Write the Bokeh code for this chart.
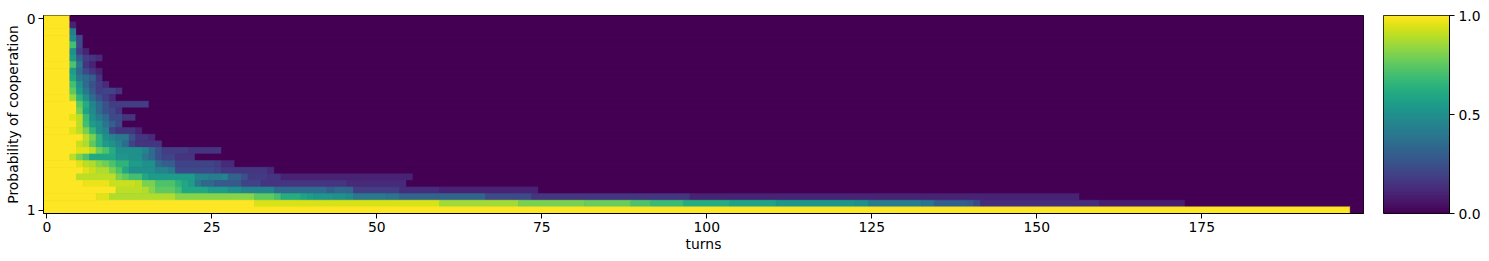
import numpy as np
from bokeh.plotting import figure
from bokeh.models import LinearColorMapper, FixedTicker, Range1d, ColumnDataSource
from bokeh.palettes import Viridis256
from bokeh.transform import transform
from bokeh.layouts import row
from bokeh.embed import file_html
from bokeh.resources import INLINE

# ---------------- data ----------------
n_turns = 200
turn_ticks = [0, 25, 50, 75, 100, 125, 150, 175]
prob_tick_rows = [0, 29]
prob_tick_labels = ["0", "1"]
colorbar_ticks = [0.0, 0.5, 1.0]
colorbar_labels = ["0.0", "0.5", "1.0"]

# each row (opponent, probability of cooperation 0 -> 1): runs of (cooperation rate, number of turns);
# turns after the listed runs have rate 0
cooperation_runs = [
    [(1, 4)],
    [(1, 4), (0.1, 1)],
    [(1, 4), (0.42, 1)],
    [(1, 4), (0.48, 1), (0.22, 1)],
    [(1, 4), (0.7, 1), (0.22, 1)],
    [(1, 4), (0.5, 1), (0.18, 1), (0.1, 1)],
    [(1, 4), (0.55, 1), (0.3, 1), (0.18, 1), (0.15, 1), (0.12, 1)],
    [(1, 4), (0.72, 1), (0.4, 1), (0.15, 1), (0.1, 1)],
    [(1, 4), (0.55, 1), (0.35, 1), (0.22, 1), (0.15, 1), (0.1, 1)],
    [(1, 4), (0.6, 1), (0.4, 1), (0.35, 1), (0.3, 1), (0.15, 1)],
    [(1, 4), (0.7, 1), (0.5, 1), (0.35, 1), (0.25, 1), (0.18, 1), (0.12, 1)],
    [(1, 4), (0.75, 1), (0.55, 1), (0.4, 1), (0.28, 1), (0.18, 1), (0.2, 2), (0.15, 1)],
    [(1, 4), (0.85, 1), (0.65, 1), (0.5, 1), (0.35, 1), (0.25, 1), (0.18, 1), (0.12, 1)],
    [(1, 5), (0.75, 1), (0.62, 1), (0.45, 1), (0.35, 1), (0.25, 1), (0.18, 6)],
    [(1, 5), (0.8, 1), (0.58, 1), (0.48, 1), (0.35, 1), (0.25, 1), (0.22, 1), (0.15, 1)],
    [(1, 4), (0.95, 1), (0.9, 1), (0.68, 1), (0.5, 1), (0.42, 1), (0.35, 1), (0.22, 2), (0.15, 2)],
    [(1, 5), (0.9, 1), (0.7, 1), (0.55, 1), (0.5, 1), (0.38, 1), (0.3, 1), (0.22, 1)],
    [(1, 4), (0.95, 1), (0.9, 1), (0.8, 1), (0.65, 1), (0.5, 1), (0.45, 1), (0.2, 1), (0.15, 3), (0.1, 1)],
    [(1, 6), (0.9, 1), (0.8, 1), (0.65, 1), (0.5, 1), (0.45, 1), (0.4, 2), (0.25, 1), (0.15, 2), (0.12, 1)],
    [(1, 5), (0.92, 1), (0.88, 1), (0.75, 1), (0.65, 1), (0.55, 1), (0.5, 1), (0.45, 1), (0.35, 1), (0.2, 1), (0.15, 4)],
    [(1, 5), (0.95, 2), (0.9, 1), (0.78, 1), (0.72, 1), (0.62, 1), (0.5, 4), (0.45, 1), (0.35, 1), (0.25, 1), (0.18, 4), (0.15, 5)],
    [(1, 4), (0.9, 1), (0.8, 1), (0.72, 1), (0.6, 4), (0.52, 2), (0.5, 2), (0.4, 1), (0.35, 1), (0.25, 1), (0.2, 2), (0.15, 3)],
    [(1, 5), (0.95, 1), (0.9, 1), (0.88, 1), (0.82, 1), (0.78, 1), (0.72, 1), (0.65, 2), (0.55, 2), (0.5, 2), (0.35, 1), (0.3, 2), (0.2, 6), (0.18, 1), (0.12, 2)],
    [(1, 6), (0.95, 1), (0.92, 1), (0.88, 2), (0.8, 1), (0.72, 1), (0.6, 1), (0.5, 4), (0.45, 2), (0.4, 1), (0.22, 6), (0.2, 1), (0.16, 7), (0.12, 1)],
    [(1, 5), (0.9, 6), (0.8, 1), (0.75, 1), (0.7, 2), (0.6, 1), (0.55, 7), (0.45, 2), (0.42, 2), (0.45, 1), (0.32, 2), (0.25, 1), (0.17, 3), (0.15, 2), (0.1, 20)],
    [(1, 6), (0.97, 4), (0.92, 4), (0.9, 1), (0.8, 2), (0.72, 3), (0.65, 1), (0.6, 1), (0.55, 1), (0.4, 1), (0.33, 2), (0.28, 4), (0.2, 3), (0.15, 13), (0.12, 9)],
    [(1, 11), (0.9, 4), (0.88, 1), (0.82, 1), (0.75, 3), (0.7, 1), (0.6, 4), (0.55, 3), (0.5, 2), (0.45, 5), (0.35, 8), (0.3, 1), (0.33, 3), (0.18, 7), (0.13, 6), (0.1, 15)],
    [(1, 8), (0.95, 2), (0.88, 10), (0.82, 12), (0.75, 3), (0.7, 1), (0.62, 3), (0.58, 1), (0.55, 1), (0.52, 3), (0.5, 2), (0.48, 1), (0.4, 5), (0.38, 2), (0.32, 13), (0.22, 7), (0.15, 24), (0.1, 59)],
    [(1, 32), (0.94, 28), (0.86, 12), (0.8, 10), (0.77, 7), (0.72, 3), (0.68, 5), (0.62, 7), (0.58, 7), (0.53, 12), (0.5, 2), (0.42, 8), (0.38, 2), (0.3, 5), (0.28, 1), (0.22, 1), (0.13, 18), (0.08, 13)],
    [(1, 198)],
]

# ---------------- build cells ----------------
left, right, top, bottom, rate = [], [], [], [], []
for r, runs in enumerate(cooperation_runs):
    t = 0
    full = list(runs)
    used = sum(n for _, n in runs)
    if used < n_turns:
        full.append((0.0, n_turns - used))
    for v, n in full:
        left.append(t - 0.5)
        right.append(t + n - 0.5)
        top.append(r - 0.5)
        bottom.append(r + 0.5)
        rate.append(v)
        t += n
src = ColumnDataSource(dict(left=left, right=right, top=top, bottom=bottom, rate=rate))

mapper = LinearColorMapper(palette=Viridis256, low=0, high=1)
FONT = "DejaVu Sans"
FS = "13.9px"

p = figure(width=1372, height=261, output_backend="svg", toolbar_location=None,
           x_range=Range1d(-0.5, n_turns - 0.5), y_range=Range1d(len(cooperation_runs) - 0.5, -0.5),
           min_border_left=43, min_border_right=9, min_border_top=15, min_border_bottom=48)
p.quad(left="left", right="right", top="top", bottom="bottom", source=src,
       fill_color=transform("rate", mapper), line_color=transform("rate", mapper), line_width=0.8)
p.background_fill_color = Viridis256[0]
p.border_fill_color = "white"
p.grid.visible = False
p.outline_line_color = "black"
p.outline_line_width = 1

p.xaxis.ticker = FixedTicker(ticks=turn_ticks)
p.yaxis.ticker = FixedTicker(ticks=prob_tick_rows)
p.yaxis.major_label_overrides = {k: v for k, v in zip(prob_tick_rows, prob_tick_labels)}
p.xaxis.axis_label = "turns"
p.yaxis.axis_label = "Probability of cooperation"
for ax in (p.xaxis, p.yaxis):
    ax.axis_label_text_font = FONT
    ax.axis_label_text_font_size = FS
    ax.axis_label_text_font_style = "normal"
    ax.axis_label_text_color = "black"
    ax.major_label_text_font = FONT
    ax.major_label_text_font_size = FS
    ax.major_label_text_color = "black"
    ax.major_tick_out = 5
    ax.major_tick_in = 0
    ax.minor_tick_out = 0
    ax.minor_tick_in = 0
    ax.major_tick_line_color = "black"
    ax.axis_line_color = "black"
    ax.major_label_standoff = 3
p.xaxis.axis_label_standoff = 1
p.yaxis.axis_label_standoff = 3
p.yaxis.major_label_orientation = "horizontal"

# ---------------- colorbar ----------------
cb = figure(width=117, height=261, output_backend="svg", toolbar_location=None,
            x_range=Range1d(0, 1), y_range=Range1d(0, 1),
            x_axis_location=None, y_axis_location="right",
            min_border_left=11, min_border_right=40, min_border_top=15, min_border_bottom=48)
cb.image(image=[np.linspace(0, 1, 256).reshape(256, 1)], x=0, y=0, dw=1, dh=1, color_mapper=mapper)
cb.grid.visible = False
cb.outline_line_color = "black"
cb.outline_line_width = 1
cb.yaxis.ticker = FixedTicker(ticks=colorbar_ticks)
cb.yaxis.major_label_overrides = {k: v for k, v in zip(colorbar_ticks, colorbar_labels)}
cb.yaxis.major_label_text_font = FONT
cb.yaxis.major_label_text_font_size = FS
cb.yaxis.major_label_text_color = "black"
cb.yaxis.major_tick_out = 5
cb.yaxis.major_tick_in = 0
cb.yaxis.minor_tick_out = 0
cb.yaxis.minor_tick_in = 0
cb.yaxis.major_tick_line_color = "black"
cb.yaxis.axis_line_color = "black"
cb.yaxis.major_label_standoff = 4

layout = row(p, cb)
open("out.html", "w").write(file_html(layout, INLINE))
